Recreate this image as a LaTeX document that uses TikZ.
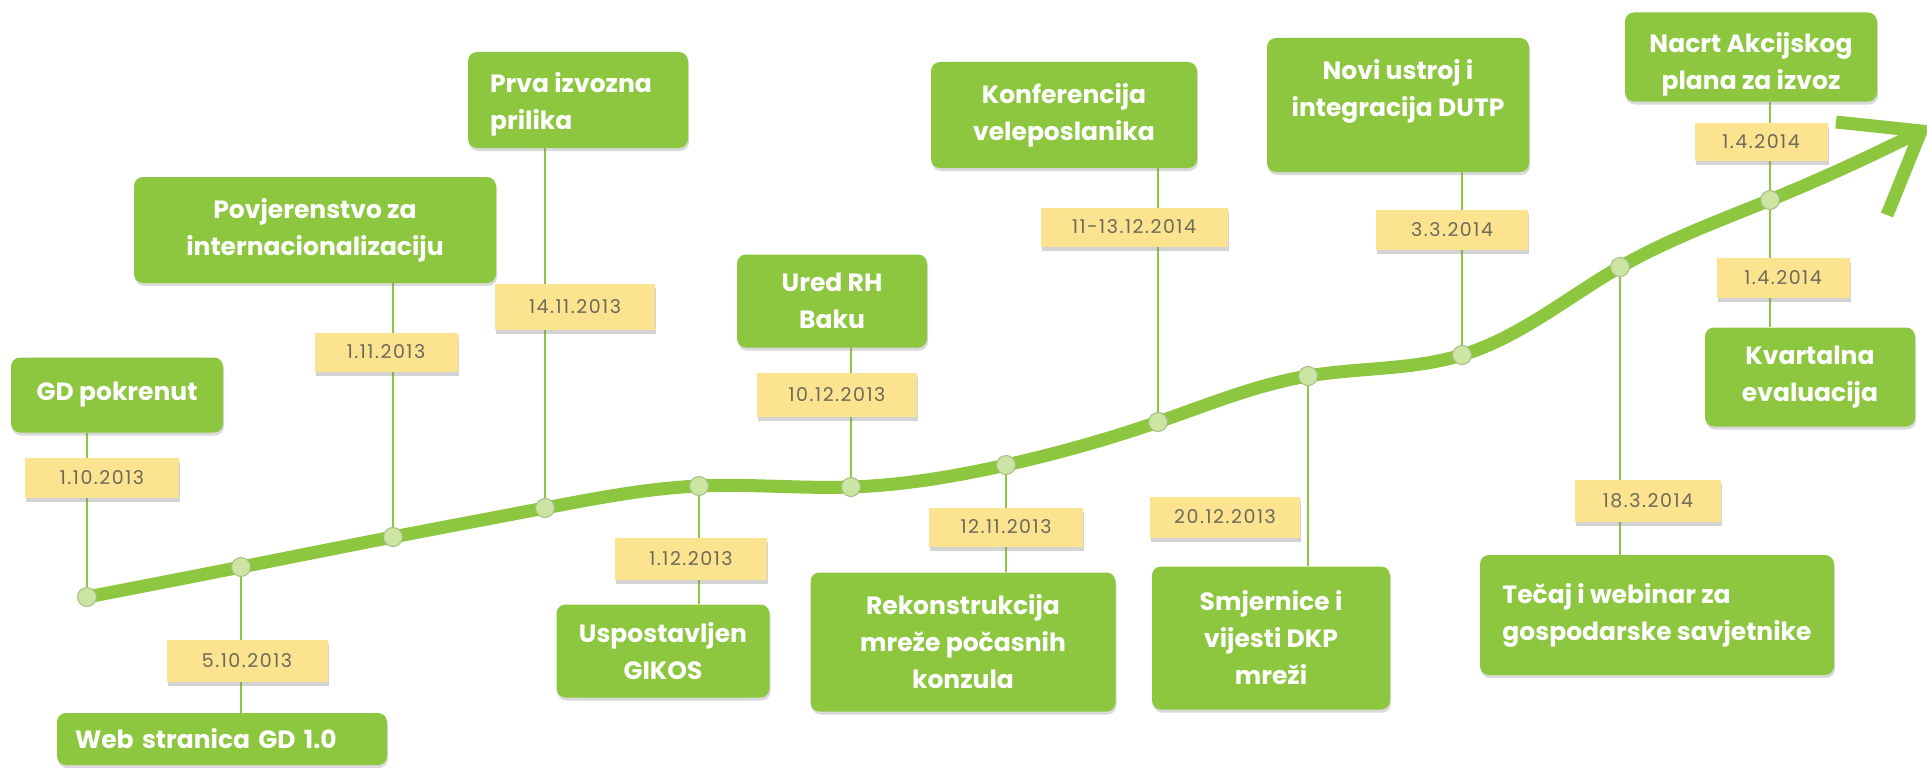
\documentclass[tikz,border=0pt]{standalone}
\usepackage{fontspec}
\setmainfont{Poppins}
\newfontfamily\datefont{Poppins}[LetterSpace=8]
\usepackage{tikz}
\usetikzlibrary{positioning, shadows, calc, hobby}

\definecolor{evgreen}{HTML}{8DC73F}
\definecolor{dateyellow}{HTML}{FBE38F}
\definecolor{dategray}{HTML}{6E6A5A}
\definecolor{dotfill}{HTML}{CDE5A3}
\definecolor{dotedge}{HTML}{A3BD86}

\pgfdeclarelayer{bg}
\pgfsetlayers{bg,main}

\begin{document}
\begin{tikzpicture}[x=1pt, y=-1pt]

			\tikzstyle{evbox}=[rounded corners=9pt, fill=evgreen, text=white, inner sep=0pt, align=center, font=\bfseries\fontsize{25}{37}\selectfont, drop shadow={shadow xshift=1pt, shadow yshift=-3pt, opacity=0.3}]
			\tikzstyle{evtext}=[text=white, inner sep=0pt, align=center, font=\bfseries\fontsize{25}{37}\selectfont]
			\tikzstyle{datebox}=[fill=dateyellow, text=dategray, inner sep=0pt, font=\datefont\fontsize{19}{23}\selectfont, drop shadow={shadow xshift=1pt, shadow yshift=-4pt, opacity=0.35}]
			\tikzstyle{dot}=[circle, minimum size=19pt, inner sep=0pt, fill=dotfill, draw=dotedge, line width=1pt]
			\tikzstyle{stem}=[draw=evgreen, line width=1.3pt]
			\tikzstyle{curve}=[draw=evgreen, line width=13pt]

			\useasboundingbox (0,0) rectangle (1927,768);

			%% points on the line
			\node (p01) at (87,597) [dot] {};
			\node (p02) at (241,567) [dot] {};
			\node (p03) at (393,537) [dot] {};
			\node (p04) at (545,508) [dot] {};
			\node (p05) at (699,486) [dot] {};
			\node (p06) at (851,487) [dot] {};
			\node (p07) at (1006,465) [dot] {};
			\node (p08) at (1158,422) [dot] {};
			\node (p09) at (1308,376) [dot] {};
			\node (p10) at (1462,355) [dot] {};
			\node (p11) at (1620,267) [dot] {};
			\node (p12) at (1770,200) [dot] {};

			\coordinate (tip) at (1921,131);
			\coordinate (barb1) at (1836,122);
			\coordinate (barb2) at (1887,215);

			%% events
			\node (e01) at (117,395) [evbox, minimum width=212pt, minimum height=75pt] {GD pokrenut};
			\node (e02) at (222,739) [evbox, minimum width=330pt, minimum height=52pt, text width=294pt, align=left] {Web stranica GD 1.0};
			\node (e03) at (315,230) [evbox, minimum width=362pt, minimum height=106pt] {Povjerenstvo za\\internacionalizaciju};
			\node (e04) at (578,100) [evbox, minimum width=220pt, minimum height=96pt] {};
			\node (e04t) at (571,104) [evtext, align=left] {Prva izvozna\\prilika};
			\node (e05) at (663,651) [evbox, minimum width=213pt, minimum height=93pt] {Uspostavljen\\GIKOS};
			\node (e06) at (832,301) [evbox, minimum width=190pt, minimum height=93pt] {Ured RH\\Baku};
			\node (e07) at (963,642) [evbox, minimum width=305pt, minimum height=139pt] {Rekonstrukcija\\mreže počasnih\\konzula};
			\node (e08) at (1064,115) [evbox, minimum width=266pt, minimum height=106pt] {Konferencija\\veleposlanika};
			\node (e09) at (1271,638) [evbox, minimum width=238pt, minimum height=143pt] {Smjernice i\\vijesti DKP\\mreži};
			\node (e10) at (1398,105) [evbox, minimum width=262pt, minimum height=134pt] {};
			\node (e10t) at (1398,91) [evtext] {Novi ustroj i\\integracija DUTP};
			\node (e11) at (1657,615) [evbox, minimum width=354pt, minimum height=120pt, align=left] {Tečaj i webinar za\\gospodarske savjetnike};
			\node (e12) at (1751,57) [evbox, minimum width=252pt, minimum height=89pt] {};
			\node (e12t) at (1751,64) [evtext] {Nacrt Akcijskog\\plana za izvoz};
			\node (e13) at (1810,377) [evbox, minimum width=210pt, minimum height=99pt] {Kvartalna\\evaluacija};

			%% dates
			\node (d01) at (102,478) [datebox, minimum width=154pt, minimum height=40pt] {1.10.2013};
			\node (d02) at (247,661) [datebox, minimum width=161pt, minimum height=42pt] {5.10.2013};
			\node (d03) at (386,352) [datebox, minimum width=143pt, minimum height=39pt] {1.11.2013};
			\node (d04) at (575,307) [datebox, minimum width=160pt, minimum height=46pt] {14.11.2013};
			\node (d05) at (691,559) [datebox, minimum width=152pt, minimum height=42pt] {1.12.2013};
			\node (d06) at (837,395) [datebox, minimum width=160pt, minimum height=44pt] {10.12.2013};
			\node (d07) at (1006,527) [datebox, minimum width=154pt, minimum height=39pt] {12.11.2013};
			\node (d08) at (1134,227) [datebox, minimum width=187pt, minimum height=39pt] {11-13.12.2014};
			\node (d09) at (1225,517) [datebox, minimum width=150pt, minimum height=41pt] {20.12.2013};
			\node (d10) at (1452,230) [datebox, minimum width=152pt, minimum height=40pt] {3.3.2014};
			\node (d11) at (1648,501) [datebox, minimum width=146pt, minimum height=42pt] {18.3.2014};
			\node (d12) at (1761,142) [datebox, minimum width=133pt, minimum height=38pt] {1.4.2014};
			\node (d13) at (1783,278) [datebox, minimum width=133pt, minimum height=40pt] {1.4.2014};

			\begin{pgfonlayer}{bg}
			\draw [stem] (p01) -- (p01 |- e01.south);
			\draw [stem] (p02) -- (p02 |- e02.north);
			\draw [stem] (p03) -- (p03 |- e03.south);
			\draw [stem] (p04) -- (p04 |- e04.south);
			\draw [stem] (p05) -- (p05 |- e05.north);
			\draw [stem] (p06) -- (p06 |- e06.south);
			\draw [stem] (p07) -- (p07 |- e07.north);
			\draw [stem] (p08) -- (p08 |- e08.south);
			\draw [stem] (p09) -- (p09 |- e09.north);
			\draw [stem] (p10) -- (p10 |- e10.south);
			\draw [stem] (p11) -- (p11 |- e11.north);
			\draw [stem] (p12) -- (p12 |- e12.south);
			\draw [stem] (p12) -- (p12 |- e13.north);

			\draw [curve, use Hobby shortcut] (p01.center) .. (p02.center) .. (p03.center) .. (p04.center) .. (p05.center) .. (p06.center) .. (p07.center) .. (p08.center) .. (p09.center) .. (p10.center) .. (p11.center) .. (p12.center) .. (tip);
			\draw [curve] (barb1) -- (tip) -- (barb2);
			\end{pgfonlayer}

\end{tikzpicture}
\end{document}
